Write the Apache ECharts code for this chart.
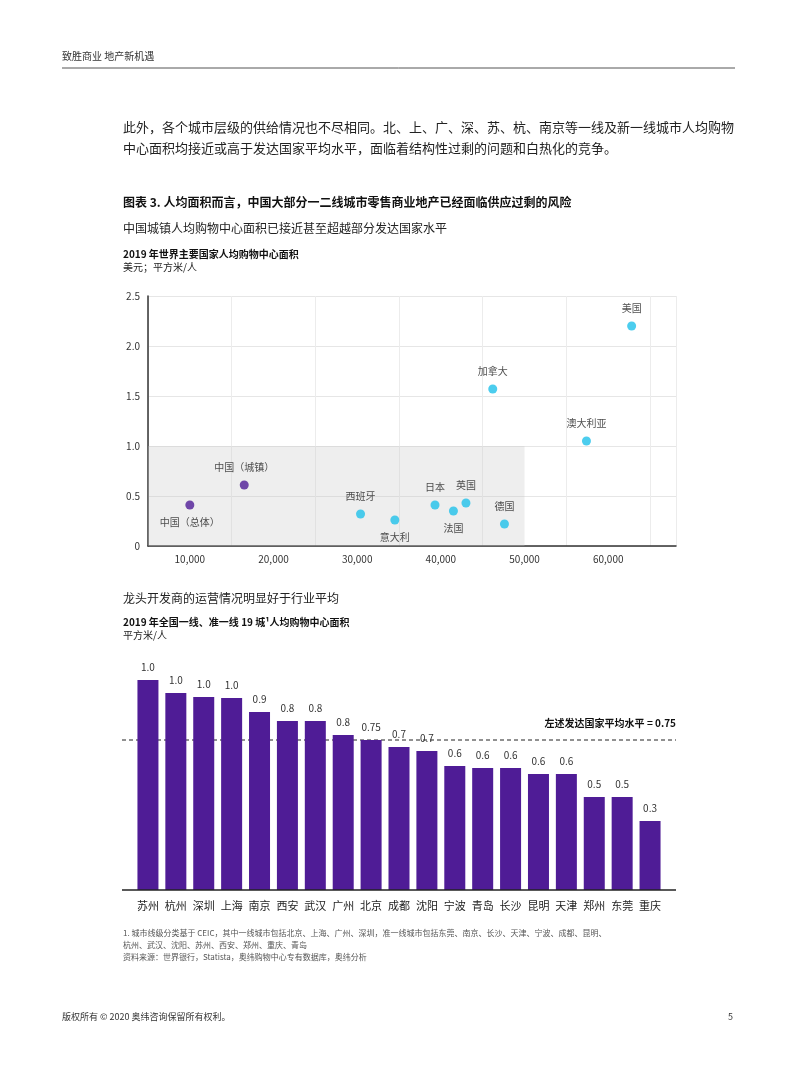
<!DOCTYPE html>
<html><head><meta charset="utf-8">
<script src="https://cdn.jsdelivr.net/npm/echarts@6/dist/echarts.min.js"></script>
<style>html,body{margin:0;background:#fff}#c{width:800px;height:1065px}</style>
</head><body><div id="c"></div>
<script>
const countries=['中国（总体）','中国（城镇）','西班牙','意大利','日本','法国','英国','德国','加拿大','澳大利亚','美国'];
const gdp=[10000,16500,30400,34500,39300,41500,43000,47600,46200,57400,62800];
const area=[0.41,0.61,0.32,0.26,0.41,0.35,0.43,0.22,1.57,1.05,2.2];
const cities=['苏州','杭州','深圳','上海','南京','西安','武汉','广州','北京','成都','沈阳','宁波','青岛','长沙','昆明','天津','郑州','东莞','重庆'];
const cityArea=[1.05,0.985,0.965,0.96,0.89,0.845,0.845,0.775,0.75,0.715,0.695,0.62,0.61,0.61,0.58,0.58,0.465,0.465,0.345];
const cityLabels=['1.0','1.0','1.0','1.0','0.9','0.8','0.8','0.8','0.75','0.7','0.7','0.6','0.6','0.6','0.6','0.6','0.5','0.5','0.3'];
const avgLevel=0.75;
const F='"Noto Sans CJK SC","Noto Sans",sans-serif';
const labelPos=['bottom','top','top','bottom','top','bottom','top','top','top','top','top'];
const purple='#4f1c96', cyan='#1fc0ea';
function t(x,y,text,size,weight,color){return {type:'text',left:x,top:y,style:{text:text,font:(weight||'normal')+' '+size+'px '+F,fill:color||'#222'}};}
const chart=echarts.init(document.getElementById('c'));
chart.setOption({
 animation:false,
 textStyle:{fontFamily:F},
 graphic:[
  t(62,51,'致胜商业 地产新机遇',10,'normal','#333'),
  {type:'line',shape:{x1:62,y1:68,x2:735,y2:68},style:{stroke:'#555',lineWidth:1}},
  t(123,121,'此外，各个城市层级的供给情况也不尽相同。北、上、广、深、苏、杭、南京等一线及新一线城市人均购物',13,'normal','#222'),
  t(123,142,'中心面积均接近或高于发达国家平均水平，面临着结构性过剩的问题和白热化的竞争。',13,'normal','#222'),
  t(123,196,'图表 3. 人均面积而言，中国大部分一二线城市零售商业地产已经面临供应过剩的风险',12,'bold','#111'),
  t(123,222,'中国城镇人均购物中心面积已接近甚至超越部分发达国家水平',12,'normal','#222'),
  t(123,249,'2019 年世界主要国家人均购物中心面积',10,'bold','#111'),
  t(123,262,'美元；平方米/人',10,'normal','#222'),
  t(123,592,'龙头开发商的运营情况明显好于行业平均',12,'normal','#222'),
  t(123,617,'2019 年全国一线、准一线 19 城¹人均购物中心面积',10,'bold','#111'),
  t(123,630,'平方米/人',10,'normal','#222'),
  t(123,929,'1. 城市线级分类基于 CEIC，其中一线城市包括北京、上海、广州、深圳，准一线城市包括东莞、南京、长沙、天津、宁波、成都、昆明、',8,'normal','#555'),
  t(123,941,'杭州、武汉、沈阳、苏州、西安、郑州、重庆、青岛',8,'normal','#555'),
  t(123,953,'资料来源：世界银行，Statista，奥纬购物中心专有数据库，奥纬分析',8,'normal','#555'),
  t(62,1012,'版权所有 © 2020 奥纬咨询保留所有权利。',9,'normal','#333'),
  t(728,1012,'5',9,'normal','#333'),
  {type:'text',right:124,top:718,style:{text:'左述发达国家平均水平 = 0.75',font:'bold 10px '+F,fill:'#111'}},
  {type:'line',z:10,shape:{x1:122,y1:890,x2:676,y2:890},style:{stroke:'#222',lineWidth:1.5}},
  {type:'line',z:1,shape:{x1:122,y1:740,x2:676,y2:740},style:{stroke:'#222',lineWidth:1,lineDash:[4,3]}}
 ],
 grid:[
  {left:148,top:296,width:528,height:250},
  {left:134,top:640,width:530,height:250}
 ],
 xAxis:[
  {gridIndex:0,type:'value',min:5000,max:68100,interval:10000,
   axisLine:{lineStyle:{color:'#333',width:1.5}},axisTick:{show:false},
   axisLabel:{color:'#333',fontSize:10,formatter:v=>v%10000===0&&v>=10000?v.toLocaleString('en-US'):'',customValues:[10000,20000,30000,40000,50000,60000]},
   splitLine:{show:true,lineStyle:{color:'#ececec'}}},
  {gridIndex:1,type:'category',data:cities,axisLine:{show:false},axisTick:{show:false},
   axisLabel:{color:'#222',fontSize:11,interval:0,margin:10}}
 ],
 yAxis:[
  {gridIndex:0,type:'value',min:0,max:2.5,interval:0.5,
   axisLine:{show:true,lineStyle:{color:'#333',width:1.5}},axisTick:{show:false},
   axisLabel:{color:'#333',fontSize:10,formatter:v=>v===0?'0':v.toFixed(1)},
   splitLine:{lineStyle:{color:'#e6e6e6'}}},
  {gridIndex:1,type:'value',min:0,max:1.25,show:false}
 ],
 series:[
  {type:'scatter',xAxisIndex:0,yAxisIndex:0,symbolSize:9,
   data:gdp.map((g,i)=>({value:[g,area[i]],itemStyle:{color:i<2?purple:cyan},
     label:{show:true,position:labelPos[i],distance:8,formatter:countries[i],fontSize:10,color:'#222'}})),
   markArea:{silent:true,itemStyle:{color:'rgba(200,200,200,0.3)'},data:[[{coord:[5000,0]},{coord:[50000,1]}]]}
  },
  {type:'bar',xAxisIndex:1,yAxisIndex:1,barWidth:21,itemStyle:{color:purple},z:5,
   data:cityArea.map((v,i)=>({value:v,label:{show:true,position:'top',distance:8,formatter:cityLabels[i],fontSize:10,color:'#333'}}))
  }
 ]
});
</script></body></html>
